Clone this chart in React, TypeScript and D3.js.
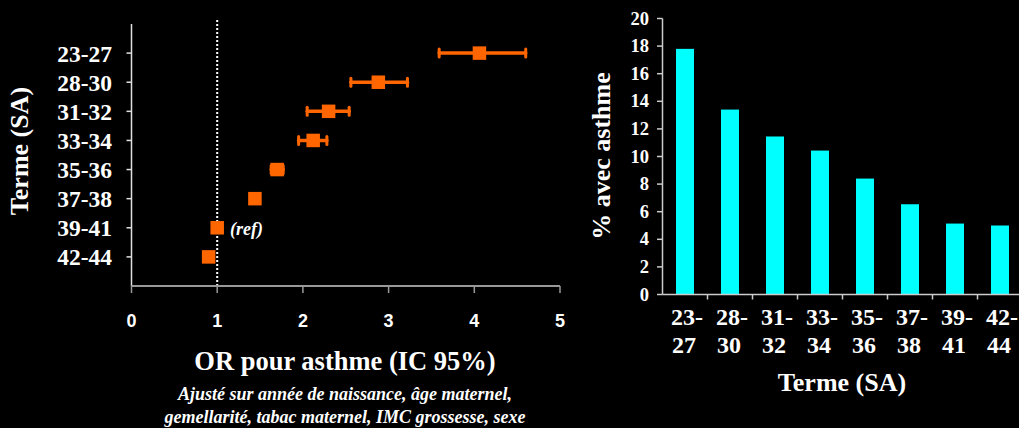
import React from "react";
import * as d3 from "d3";

const categories = ["23-27", "28-30", "31-32", "33-34", "35-36", "37-38", "39-41", "42-44"];
const orValues = [4.06, 2.88, 2.3, 2.12, 1.7, 1.44, 1.0, 0.9];
const ciLow = [3.59, 2.56, 2.05, 1.95, 1.63, null, null, null];
const ciHigh = [4.6, 3.22, 2.54, 2.28, 1.77, null, null, null];
const pctAsthma = [17.8, 13.4, 11.45, 10.43, 8.4, 6.54, 5.14, 5.0];
const orTicks = [0, 1, 2, 3, 4, 5];
const pctTicks = [0, 2, 4, 6, 8, 10, 12, 14, 16, 18, 20];

const W = 1019;
const H = 428;
const ORANGE = "#FF6600";
const CYAN = "#00FFFF";
const TIMES = "'Liberation Serif', 'Times New Roman', serif";
const ARIAL = "'Liberation Sans', Arial, sans-serif";

export default function App() {
  // Left forest plot
  const xL = d3.scaleLinear().domain([0, 5]).range([131.5, 560]);
  const yL = d3.scaleLinear().domain([0, 9]).range([24, 286]);
  const catY = (i: number) => yL(i + 1);
  const m = 13.5;

  // Right bar chart
  const xR = d3.scaleBand<string>().domain(categories).range([662.5, 1022.5]).paddingInner(0.6).paddingOuter(0.3);
  const bandR = d3.scaleBand<string>().domain(categories).range([662.5, 1022.5]);
  const yR = d3.scaleLinear().domain([0, 20]).range([294.5, 18.5]);

  return (
    <svg width={W} height={H} style={{ position: "absolute", left: 0, top: 0, background: "#000" }}>
      <rect x={0} y={0} width={W} height={H} fill="#000" />

      {/* ---------- Left chart ---------- */}
      <line x1={xL(1)} x2={xL(1)} y1={20} y2={286} stroke="#fff" strokeWidth={2} strokeDasharray="2,2" />
      <line x1={xL(0)} x2={xL(0)} y1={24} y2={286} stroke="#e0e0e0" strokeWidth={1.5} />
      {categories.map((c, i) => (
        <g key={c}>
          <line x1={xL(0) - 5} x2={xL(0)} y1={catY(i)} y2={catY(i)} stroke="#e0e0e0" strokeWidth={1.5} />
          <text x={112} y={catY(i) + 8.5} textAnchor="end" fill="#fff" fontFamily={TIMES} fontWeight="bold" fontSize={23.5}>
            {c}
          </text>
        </g>
      ))}
      <line x1={xL(0)} x2={xL(5)} y1={286} y2={286} stroke="#999" strokeWidth={2} />
      {orTicks.map((t) => (
        <g key={t}>
          <line x1={xL(t)} x2={xL(t)} y1={286} y2={293} stroke="#999" strokeWidth={1.5} />
          <text x={xL(t)} y={327} textAnchor="middle" fill="#fff" fontFamily={ARIAL} fontWeight="bold" fontSize={18}>
            {t}
          </text>
        </g>
      ))}
      {categories.map((c, i) => {
        const lo = ciLow[i];
        const hi = ciHigh[i];
        if (lo == null || hi == null) return null;
        const y = catY(i);
        return (
          <g key={"ci" + c} stroke={ORANGE} strokeLinecap="round">
            <line x1={xL(lo)} x2={xL(hi)} y1={y} y2={y} strokeWidth={3.5} />
            <line x1={xL(lo)} x2={xL(lo)} y1={y - 4} y2={y + 4} strokeWidth={3} />
            <line x1={xL(hi)} x2={xL(hi)} y1={y - 4} y2={y + 4} strokeWidth={3} />
          </g>
        );
      })}
      {categories.map((c, i) => (
        <rect key={"m" + c} x={xL(orValues[i]) - m / 2} y={catY(i) - m / 2} width={m} height={m} fill={ORANGE} />
      ))}
      <text x={230} y={235} fill="#fff" fontFamily={TIMES} fontStyle="italic" fontWeight="bold" fontSize={18}>
        (ref)
      </text>
      <text
        transform={`translate(28,151) rotate(-90)`}
        textAnchor="middle"
        fill="#fff"
        fontFamily={TIMES}
        fontWeight="bold"
        fontSize={26}
      >
        Terme (SA)
      </text>
      <text x={345} y={370} textAnchor="middle" fill="#fff" fontFamily={TIMES} fontWeight="bold" fontSize={26.5}>
        OR pour asthme (IC 95%)
      </text>
      <text x={345} y={400} textAnchor="middle" fill="#fff" fontFamily={TIMES} fontStyle="italic" fontWeight="bold" fontSize={18}>
        Ajusté sur année de naissance, âge maternel,
      </text>
      <text x={345} y={423} textAnchor="middle" fill="#fff" fontFamily={TIMES} fontStyle="italic" fontWeight="bold" fontSize={18}>
        gemellarité, tabac maternel, IMC grossesse, sexe
      </text>

      {/* ---------- Right chart ---------- */}
      {categories.map((c, i) => (
        <rect
          key={"b" + c}
          x={xR(c)!}
          y={yR(pctAsthma[i])}
          width={xR.bandwidth()}
          height={yR(0) - yR(pctAsthma[i])}
          fill={CYAN}
        />
      ))}
      <line x1={662.5} x2={662.5} y1={yR(20)} y2={yR(0)} stroke="#ccc" strokeWidth={1.5} />
      {pctTicks.map((t) => (
        <g key={"yt" + t}>
          <line x1={657} x2={662.5} y1={yR(t)} y2={yR(t)} stroke="#ccc" strokeWidth={1.5} />
          <text x={649} y={yR(t) + 6} textAnchor="end" fill="#fff" fontFamily={TIMES} fontWeight="bold" fontSize={18.5}>
            {t}
          </text>
        </g>
      ))}
      <line x1={662.5} x2={1019} y1={yR(0)} y2={yR(0)} stroke="#ccc" strokeWidth={1.5} />
      {categories.map((c) => (
        <line
          key={"xt" + c}
          x1={bandR(c)! + bandR.bandwidth()}
          x2={bandR(c)! + bandR.bandwidth()}
          y1={yR(0)}
          y2={yR(0) + 5}
          stroke="#ccc"
          strokeWidth={1.5}
        />
      ))}
      {categories.map((c) => {
        const [a, b] = c.split("-");
        const cx = bandR(c)! + bandR.bandwidth() / 2 + 2;
        return (
          <g key={"xl" + c}>
            <text x={cx} y={325} textAnchor="middle" fill="#fff" fontFamily={TIMES} fontWeight="bold" fontSize={24}>
              {a + "-"}
            </text>
            <text x={cx - 3} y={353} textAnchor="middle" fill="#fff" fontFamily={TIMES} fontWeight="bold" fontSize={24}>
              {b}
            </text>
          </g>
        );
      })}
      <text
        transform={`translate(610,156) rotate(-90)`}
        textAnchor="middle"
        fill="#fff"
        fontFamily={TIMES}
        fontWeight="bold"
        fontSize={26}
      >
        % avec asthme
      </text>
      <text x={842} y={391} textAnchor="middle" fill="#fff" fontFamily={TIMES} fontWeight="bold" fontSize={26}>
        Terme (SA)
      </text>
    </svg>
  );
}
